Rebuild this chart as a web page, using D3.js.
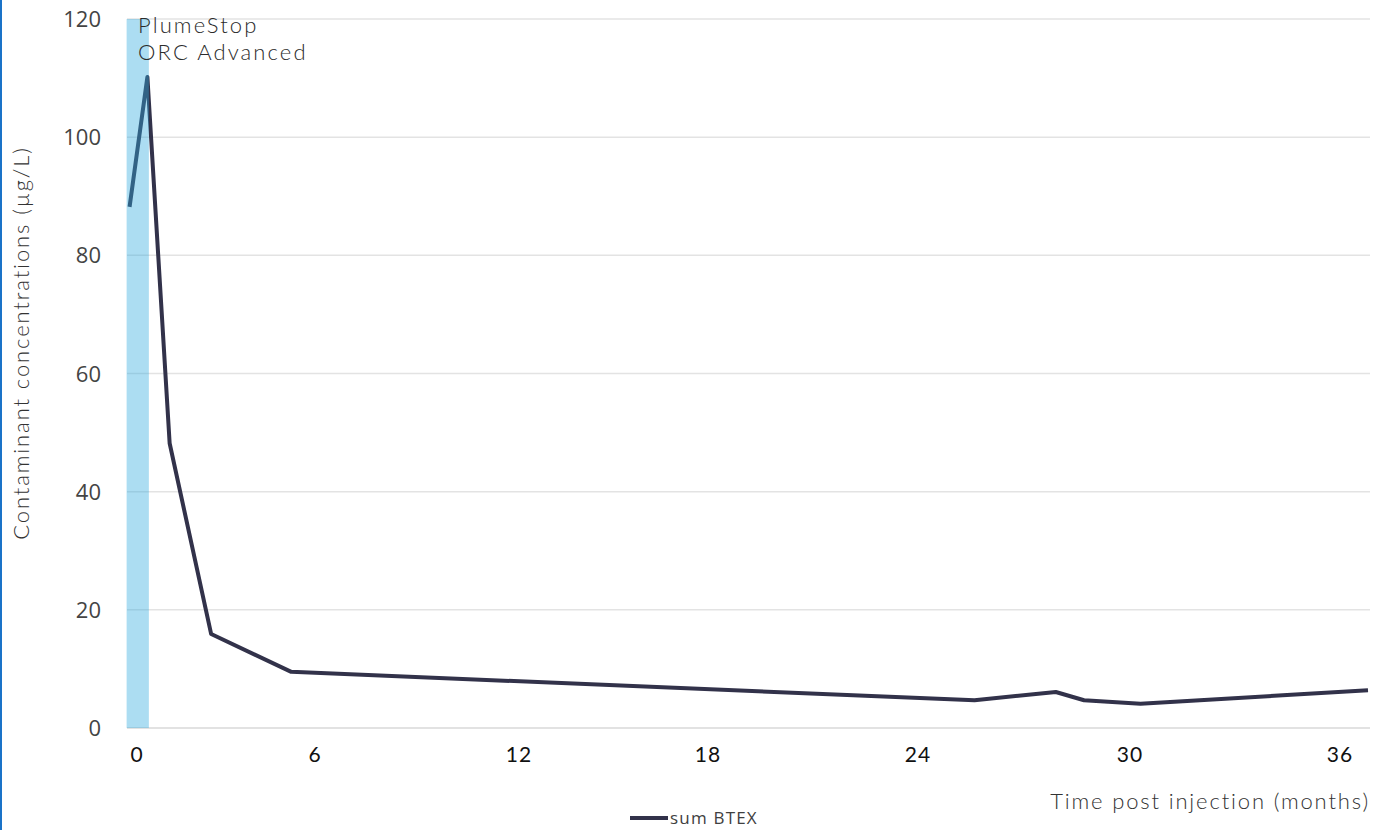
<!DOCTYPE html>
<html lang="en">
  <head>
    <meta charset="UTF-8" />
    <script src="https://d3js.org/d3.v7.min.js"></script>
    <style>
      body { margin: 0; background: #fff; }
      svg { display: block; font-family: Lato, "Open Sans", sans-serif; }
    </style>
  </head>
  <body>
    <svg id="chart" width="1387" height="830"></svg>
    <script>
      // data
      const months = [-0.25, 0.35, 1.1, 2.5, 5.2, 25.6, 27.9, 28.7, 30.3, 36.8];
      const btex = [88.2, 110.2, 48.2, 15.9, 9.5, 4.7, 6.1, 4.7, 4.1, 6.4];
      const xTicks = [0, 6, 12, 18, 24, 30, 36];
      const yTicks = [0, 20, 40, 60, 80, 100, 120];
      const injection = [-0.35, 0.4]; // shaded injection period
      const seriesName = "sum BTEX";
      const bandLabels = ["PlumeStop", "ORC Advanced"];

      const svg = d3.select("#chart");
      const plot = { left: 127, right: 1370, top: 19, bottom: 728 };

      // the month labels are not evenly spaced in the original, so piecewise
      const x = d3.scaleLinear()
        .domain(xTicks)
        .range([137, 315, 519, 708, 918, 1130, 1340]);
      const y = d3.scaleLinear().domain([0, 120]).range([plot.bottom, plot.top]);

      // left blue border
      svg.append("rect").attr("x", 0).attr("y", 0)
        .attr("width", 2).attr("height", 830).attr("fill", "#1a73c8");

      // gridlines
      svg.append("g")
        .selectAll("line")
        .data(yTicks)
        .join("line")
        .attr("x1", plot.left).attr("x2", plot.right)
        .attr("y1", d => y(d)).attr("y2", d => y(d))
        .attr("stroke", d => d === 0 ? "#d9d9d9" : "#e3e3e3")
        .attr("stroke-width", 1.5);

      // y tick labels
      svg.append("g")
        .selectAll("text")
        .data(yTicks)
        .join("text")
        .attr("x", 101).attr("y", d => y(d) + 8)
        .attr("text-anchor", "end")
        .attr("font-family", "'Open Sans', sans-serif")
        .attr("font-size", 22)
        .attr("fill", "#444")
        .text(d => d);

      // x tick labels
      svg.append("g")
        .selectAll("text")
        .data(xTicks)
        .join("text")
        .attr("x", d => x(d)).attr("y", 762)
        .attr("text-anchor", "middle")
        .attr("font-size", 21)
        .attr("letter-spacing", 1)
        .attr("fill", "#111")
        .text(d => d);

      // the series
      const line = d3.line()
        .x((d, i) => x(months[i]))
        .y(d => y(d));
      svg.append("path")
        .datum(btex)
        .attr("d", line)
        .attr("fill", "none")
        .attr("stroke", "#32324a")
        .attr("stroke-width", 4)
        .attr("stroke-linejoin", "round");

      // injection band, drawn on top with transparency
      svg.append("rect")
        .attr("x", x(injection[0]))
        .attr("width", x(injection[1]) - x(injection[0]))
        .attr("y", y(120))
        .attr("height", y(0) - y(120))
        .attr("fill", "#30aade")
        .attr("opacity", 0.4);

      svg.append("g")
        .selectAll("text")
        .data(bandLabels)
        .join("text")
        .attr("x", 138)
        .attr("y", (d, i) => 33 + i * 27)
        .attr("font-size", 22)
        .attr("font-weight", 300)
        .attr("letter-spacing", 2.1)
        .attr("fill", "#2b2b2b")
        .text(d => d);

      // axis titles
      svg.append("text")
        .attr("transform", "translate(29,343) rotate(-90)")
        .attr("text-anchor", "middle")
        .attr("font-size", 22)
        .attr("font-weight", 300)
        .attr("letter-spacing", 1.9)
        .attr("fill", "#333")
        .text("Contaminant concentrations (µg/L)");

      svg.append("text")
        .attr("x", plot.right).attr("y", 809)
        .attr("text-anchor", "end")
        .attr("font-size", 22)
        .attr("font-weight", 300)
        .attr("letter-spacing", 1.85)
        .attr("fill", "#333")
        .text("Time post injection (months)");

      // legend
      const legend = svg.append("g").attr("transform", "translate(630,818)");
      legend.append("line")
        .attr("x1", 0).attr("x2", 38)
        .attr("stroke", "#32324a").attr("stroke-width", 4);
      legend.append("text")
        .attr("x", 40).attr("y", 6)
        .attr("font-family", "'Open Sans', sans-serif")
        .attr("font-size", 17)
        .attr("letter-spacing", 1.2)
        .attr("fill", "#404040")
        .text(seriesName);
    </script>
  </body>
</html>
